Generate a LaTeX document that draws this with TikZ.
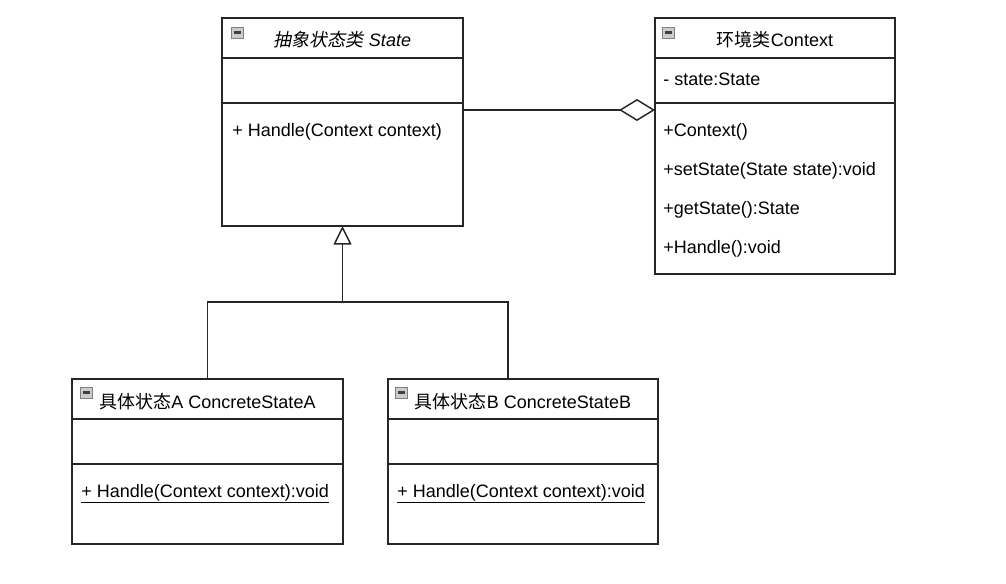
\documentclass[tikz,border=0pt]{standalone}
\usepackage{fontspec}
\setmainfont{Liberation Sans}
\newfontfamily\cjk{Noto Sans CJK SC}
\newfontfamily\cjkit[FakeSlant=0.2]{Noto Sans CJK SC}
\usetikzlibrary{arrows.meta,positioning}
\newcommand{\mIcon}[2]{\draw[gray,fill=gray!40,line width=0.6pt] (#1,#2) rectangle ++(12,11); \draw[black!75,line width=1.6pt] (#1+2.5,#2+5.5) -- ++(7,0)}
\newcommand{\mSep}[2]{\draw[umlline] (#1.west |- 0,#2) -- (#1.east |- 0,#2)}
\newcommand{\mMember}[3]{\node[member] at (#1,#2) {#3}}

\begin{document}
\begin{tikzpicture}[x=0.75pt,y=-0.75pt,
    umlline/.style={line width=1.1pt,black!85},
    umlbox/.style={draw,umlline,fill=white,inner sep=0pt,outer sep=0pt},
    member/.style={anchor=base west,inner sep=0pt,font=\fontsize{13.5}{16}\selectfont},
    title/.style={anchor=base,inner sep=0pt,font=\fontsize{13.5}{16}\selectfont}]
    \useasboundingbox (0,0) rectangle (1006,584);
    % classes
    \node[umlbox,minimum width=180.75pt,minimum height=156pt] (state) at (342.5,122) {};
    \node[umlbox,minimum width=180pt,minimum height=192pt] (context) at (775,146) {};
    \node[umlbox,minimum width=203.25pt,minimum height=123.75pt] (concA) at (207.5,461.5) {};
    \node[umlbox,minimum width=202.5pt,minimum height=123.75pt] (concB) at (523,461.5) {};
    \mSep{state}{58}; \mSep{state}{103};
    \mSep{context}{58}; \mSep{context}{103};
    \mSep{concA}{419}; \mSep{concA}{464};
    \mSep{concB}{419}; \mSep{concB}{464};
    % headers
    \mIcon{231}{27}; \mIcon{662}{27}; \mIcon{80}{387}; \mIcon{395}{387};
    \node[title] (stateT) at (342.5,47) {\itshape{\cjkit 抽象状态类} State};
    \node[title] (contextT) at (775,47) {{\cjk 环境类}Context};
    \node[title] (concAT) at (207.5,408) {{\cjk 具体状态}A ConcreteStateA};
    \node[title] (concBT) at (523,408) {{\cjk 具体状态}B ConcreteStateB};
    % members
    \mMember{232}{137}{+ Handle(Context context)};
    \mMember{663}{86}{- state:State};
    \mMember{663}{137}{+Context()};
    \mMember{663}{176}{+setState(State state):void};
    \mMember{663}{215}{+getState():State};
    \mMember{663}{254}{+Handle():void};
    \mMember{81}{497}{\underline{+ Handle(Context context):void}};
    \mMember{397}{497}{\underline{+ Handle(Context context):void}};
    % relations
    \coordinate (aggY) at (0,110);
    \coordinate (jn) at (342.5,302);
    \draw[umlline,-{Diamond[open,length=27pt,width=16.5pt]}] (state.east |- aggY) -- (context.west |- aggY);
    \draw[umlline] (concA.north) |- (jn) -| ([xshift=-11.25pt]concB.north);
    \draw[umlline,-{Triangle[open,length=14pt,width=13.5pt]}] (jn) -- (state.south);
\end{tikzpicture}
\end{document}
